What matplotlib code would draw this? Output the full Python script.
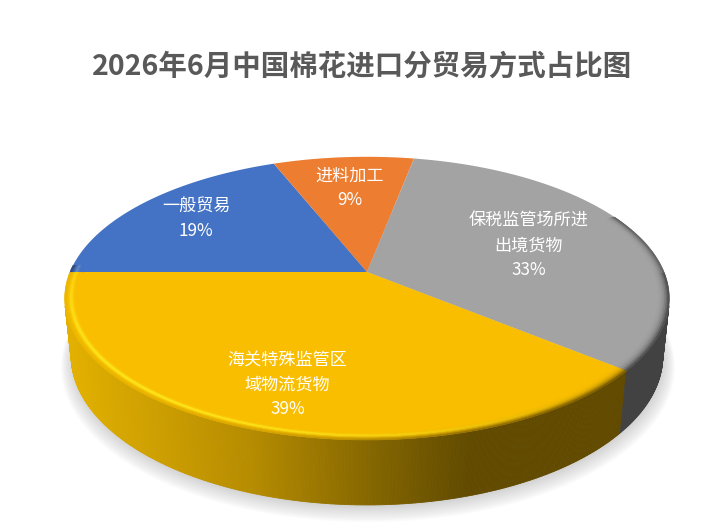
import numpy as np
import matplotlib
matplotlib.use('Agg')
import matplotlib.pyplot as plt
from matplotlib.collections import PolyCollection
from matplotlib.patches import Polygon

plt.rcParams['font.family'] = ['Noto Sans CJK SC', 'DejaVu Sans']

# data
title = '2026年6月中国棉花进口分贸易方式占比图'
labels = ['一般贸易', '进料加工', '保税监管场所进\n出境货物', '海关特殊监管区\n域物流货物']
values = [19, 9, 33, 39]
pct_labels = ['19%', '9%', '33%', '39%']

top_colors = [(68, 114, 196), (236, 125, 49), (163, 163, 163), (250, 190, 0)]

# camera / perspective settings (pixel units)
cx, cy = 367, 272
A = 297.0
p = 0.21
phi = np.radians(27.4)
h = 0.219


def proj(r, th, y=0.0):
    X = r * np.cos(th)
    Z = -r * np.sin(th)
    depth = 1 - p * (y * np.sin(phi) + Z * np.cos(phi))
    sx = cx + A * X / depth
    sy = cy - A * (y * np.cos(phi) - Z * np.sin(phi)) / depth
    return sx, sy


def c01(c):
    return tuple(v / 255 for v in c)


fig = plt.figure(figsize=(7.22, 5.30), dpi=100)
ax = fig.add_axes([0, 0, 1, 1])
ax.set_xlim(0, 722)
ax.set_ylim(530, 0)
ax.axis('off')

# slice angles: start at 9 o'clock, clockwise
fracs = np.array(values) / sum(values)
starts = np.radians(180 - 360 * np.concatenate([[0], np.cumsum(fracs)[:-1]]))
ends = starts - np.radians(360 * fracs)


def slice_of(th):
    # th in radians, map into range (ends[-1], starts[0]]
    t = th
    while t > starts[0]:
        t -= 2 * np.pi
    while t <= starts[0] - 2 * np.pi:
        t += 2 * np.pi
    for i in range(len(values)):
        if ends[i] <= t <= starts[i]:
            return i
    return len(values) - 1


# side colour of gold as function of screen x
side_x = [60, 250, 420, 470, 720]
side_r = [228, 182, 114, 98, 98]
side_g = [178, 140, 88, 75, 75]


def side_color(i, sx):
    if i == 3:
        return (np.interp(sx, side_x, side_r), np.interp(sx, side_x, side_g), 0)
    if i == 2:
        return (66, 66, 66)
    base = top_colors[i]
    return tuple(v * 0.45 for v in base)


# soft shadow under the pie
tt = np.linspace(0, 2 * np.pi, 361)
for k in range(10):
    bx, by = proj(1.0 + 0.004 * k, tt, -h)
    ax.add_patch(Polygon(np.column_stack([bx + 1, by + 2 + 0.8 * k]), closed=True,
                         facecolor='#808080', edgecolor='none', alpha=0.035, zorder=1))

# side wall
lim = np.arcsin(-p / np.cos(phi))
th_side = np.linspace(np.pi - lim, 2 * np.pi + lim, 400)
quads, cols = [], []
for a0, a1 in zip(th_side[:-1], th_side[1:]):
    x0, y0 = proj(1, a0, 0)
    x1, y1 = proj(1, a1, 0)
    x2, y2 = proj(1, a1, -h)
    x3, y3 = proj(1, a0, -h)
    am = 0.5 * (a0 + a1)
    i = slice_of(am)
    quads.append([(x0, y0), (x1, y1), (x2, y2), (x3, y3)])
    cols.append(c01(side_color(i, 0.5 * (x0 + x1))))
ax.add_collection(PolyCollection(quads, facecolors=cols, edgecolors=cols,
                                 linewidths=0.6, zorder=2))

# top faces
for i in range(len(values)):
    th = np.linspace(starts[i], ends[i], 200)
    rx, ry = proj(1, th, 0)
    pts = np.column_stack([np.r_[cx, rx], np.r_[cy, ry]])
    ax.add_patch(Polygon(pts, closed=True, facecolor=c01(top_colors[i]),
                         edgecolor='none', zorder=3))

# bevel band on the rim
hi_gold = (255, 235, 30)
radii = np.linspace(0.955, 1.0, 10)
th_bev = np.linspace(np.pi - 0.05, 2 * np.pi + 0.45, 420)
quads, cols = [], []
for a0, a1 in zip(th_bev[:-1], th_bev[1:]):
    am = 0.5 * (a0 + a1)
    i = slice_of(am)
    base = np.array(top_colors[i], float)
    xm, _ = proj(1, am, 0)
    sc = np.array(side_color(i, xm), float)
    if am > 2 * np.pi:
        sc = base * 0.55
    light = max(0.0, np.cos(am - np.radians(230))) ** 1.5
    hi = np.array(hi_gold if i == 3 else (255, 255, 255), float)
    for r0, r1 in zip(radii[:-1], radii[1:]):
        t = (0.5 * (r0 + r1) - radii[0]) / (radii[-1] - radii[0])
        bump = np.exp(-((t - 0.55) / 0.16) ** 2)
        dark = t ** 3
        col = base + (sc - base) * dark * (1 - 0.5 * light)
        col = col + (hi - col) * bump * light * (0.95 if i == 3 else 0.4)
        col = np.clip(col, 0, 255)
        p0 = proj(r0, a0); p1 = proj(r0, a1); p2 = proj(r1, a1); p3 = proj(r1, a0)
        quads.append([p0, p1, p2, p3])
        cols.append(c01(col))
ax.add_collection(PolyCollection(quads, facecolors=cols, edgecolors=cols,
                                 linewidths=0.4, zorder=4))

# labels
label_r = [0.75, 0.70, 0.6, 0.75]
label_shift = [0, 0, 0, 1.8]  # degrees
for i in range(len(values)):
    mid = 0.5 * (starts[i] + ends[i]) + np.radians(label_shift[i])
    lx, ly = proj(label_r[i], mid, 0)
    ax.text(lx, ly, labels[i] + '\n' + pct_labels[i], ha='center', va='center',
            color='white', fontsize=12.3, linespacing=1.45, zorder=5)

ax.text(362, 67, title, ha='center', va='center', fontsize=20.5,
        fontweight='bold', color='#595959', zorder=5)

fig.savefig('out.png', dpi=100)
